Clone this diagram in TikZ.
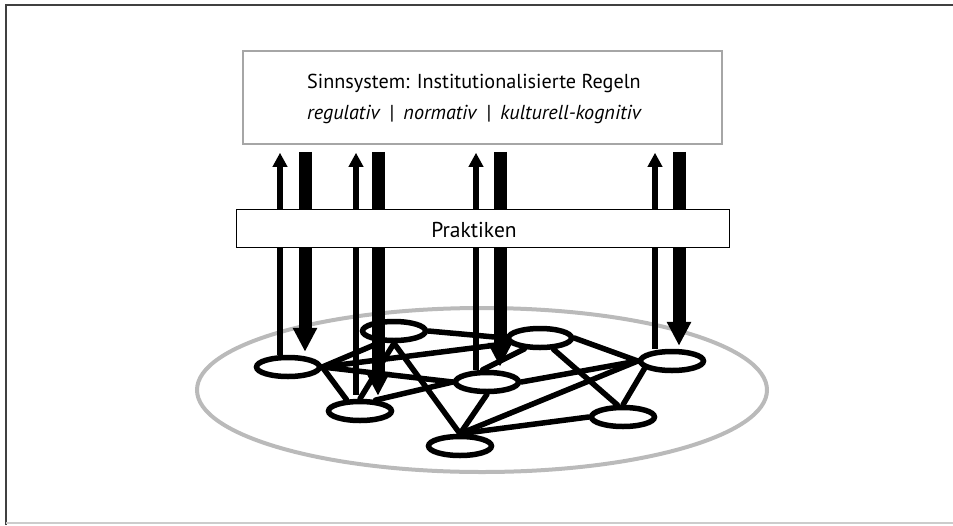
\documentclass[tikz,border=0pt]{standalone}
\usepackage{fontspec}
\setmainfont{PT Sans}
\usetikzlibrary{arrows.meta,shapes.geometric,backgrounds}
\begin{document}
\begin{tikzpicture}[x=1pt,y=-1pt,
  netnode/.style={ellipse, draw, line width=5.5pt, fill=white, minimum width=63pt, minimum height=19pt, inner sep=0pt},
  edge/.style={line width=5.5pt, line cap=round},
  uparrow/.style={line width=5.5pt, -{Triangle[width=14pt,length=14pt]}},
  downarrow/.style={line width=13pt, -{Triangle[width=23pt,length=24pt]}},
  boxtext/.style={inner sep=0pt, anchor=base west, font=\fontsize{20.2}{24}\selectfont},
 ]
\useasboundingbox (0,0) rectangle (953,525);
% frame
\draw[line width=2pt, black!75] (6,525) -- (6,5) -- (953,5);
\draw[line width=1.5pt, black!20] (6,523) -- (953,523);

% top box
\node[draw=black!35, line width=1.5pt, fill=white, minimum width=479pt, minimum height=93pt, inner sep=0pt] (rules) at (482.5,97.5) {};
\node[boxtext] (t1) at (307,88) {Sinnsystem: Institutionalisierte Regeln};
\node[boxtext] (t2) at (307,119) {\textit{regulativ}\hspace{9pt}|\hspace{9pt}\textit{normativ}\hspace{9pt}|\hspace{9pt}\textit{kulturell-kognitiv}};

% network nodes
\node[netnode] (N1) at (288,367) {};
\node[netnode] (N2) at (394,331) {};
\node[netnode] (N3) at (360,411) {};
\node[netnode] (N4) at (487,382) {};
\node[netnode] (N5) at (460,446) {};
\node[netnode] (N6) at (540,338) {};
\node[netnode] (N7) at (672,361) {};
\node[netnode] (N8) at (623,417) {};

\begin{scope}[on background layer]
\node[ellipse, draw=black!27, line width=4pt, minimum width=570pt, minimum height=164pt, inner sep=0pt] (field) at (482,390) {};
\draw[edge] (N1.east) -- (N2.220);
\draw[edge] (N1.east) -- (N6.190);
\draw[edge] (N1.east) -- (N4.west);
\draw[edge] (N1.east) -- (N3.140);
\draw[edge] (N2.east) -- (N6.west);
\draw[edge] (N2.south) -- (N3.north);
\draw[edge] (N2.south) -- (N5.north);
\draw[edge] (N3.35) -- (N4.west);
\draw[edge] (N4.110) -- (N6.215);
\draw[edge] (N4.east) -- (N7.west);
\draw[edge] (N4.south) -- (N5.north);
\draw[edge] (N5.north) -- (N7.west);
\draw[edge] (N5.north) -- (N8.west);
\draw[edge] (N6.east) -- (N7.west);
\draw[edge] (N6.-40) -- (N8.115);
\draw[edge] (N7.195) -- (N8.north);
\end{scope}

% arrow columns
\coordinate (a1) at (280,0);
\coordinate (a2) at (356,0);
\coordinate (a3) at (476,0);
\coordinate (a4) at (655,0);
\coordinate (b1) at (305,0);
\coordinate (b2) at (378,0);
\coordinate (b3) at (500,0);
\coordinate (b4) at (679,0);

\draw[uparrow, shorten >=8pt] (a1 |- N1.north) -- (a1 |- rules.south);
\draw[uparrow, shorten >=8pt, shorten <=4pt] (a2 |- N3.north) -- (a2 |- rules.south);
\draw[uparrow, shorten >=8pt] (a3 |- N4.north) -- (a3 |- rules.south);
\draw[uparrow, shorten >=8pt] (a4 |- N7.north) -- (a4 |- rules.south);

\draw[downarrow, shorten <=7pt, shorten >=3pt] (b1 |- rules.south) -- (b1 |- N1.north);
\draw[downarrow, shorten <=7pt, shorten >=3pt] (b2 |- rules.south) -- (b2 |- N3.north);
\draw[downarrow, shorten <=7pt, shorten >=3pt] (b3 |- rules.south) -- (b3 |- N4.north);
\draw[downarrow, shorten <=7pt, shorten >=3pt] (b4 |- rules.south) -- (b4 |- N7.north);

% practices box
\node[draw, line width=1pt, fill=white, minimum width=493pt, minimum height=38pt, inner sep=0pt] (prak) at (482.5,228) {};
\node[inner sep=0pt, anchor=base, font=\fontsize{21.5}{25}\selectfont] (ptext) at (474,237) {Praktiken};
\end{tikzpicture}
\end{document}
